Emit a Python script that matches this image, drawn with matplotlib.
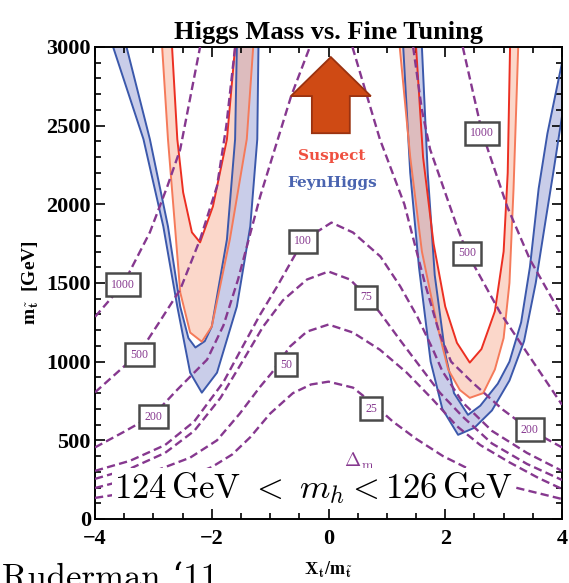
import matplotlib
matplotlib.use("Agg")
import matplotlib.pyplot as plt
import matplotlib.patches as mpatches
from matplotlib.ticker import MultipleLocator

plt.rcParams["font.family"] = ["Liberation Serif", "DejaVu Serif"]
plt.rcParams["mathtext.fontset"] = "cm"

# fine tuning contours, x = X_t/m_stop, y = m_stop [GeV]
ft25_x = [-4.0, -3.3, -2.6, -2.0, -1.65, -1.34, -1.0, -0.61, -0.3, 0.0, 0.42, 0.74, 1.1, 1.5, 1.96, 2.5, 3.2, 4.0]
ft25_y = [134, 175, 240, 330, 410, 520, 670, 800, 855, 873, 835, 740, 620, 510, 400, 300, 200, 127]

ft50_x = [-4.0, -3.5, -2.94, -2.37, -1.91, -1.52, -1.17, -0.97, -0.66, -0.37, 0.0, 0.42, 0.88, 1.34, 1.79, 2.2, 2.6, 3.1, 3.6, 4.0]
ft50_y = [197, 245, 310, 390, 500, 670, 841, 930, 1096, 1191, 1236, 1185, 1076, 930, 758, 590, 470, 360, 260, 191]

ft75_x = [-4.0, -3.4, -2.8, -2.3, -1.85, -1.46, -1.12, -0.78, -0.37, 0.0, 0.37, 0.64, 0.88, 1.22, 1.57, 1.91, 2.3, 2.8, 3.4, 4.0]
ft75_y = [255, 320, 420, 560, 770, 1010, 1223, 1390, 1522, 1573, 1522, 1420, 1312, 1140, 968, 802, 650, 480, 350, 248]

ft100_x = [-4.0, -3.4, -2.8, -2.3, -1.8, -1.45, -1.17, -0.88, -0.61, -0.43, 0.05, 0.42, 0.89, 1.23, 1.52, 1.79, 1.95, 2.3, 2.8, 3.4, 4.0]
ft100_y = [306, 370, 470, 620, 870, 1110, 1300, 1478, 1655, 1770, 1884, 1821, 1668, 1478, 1287, 1076, 940, 740, 560, 420, 306]

ft200_l_x = [-4.0, -3.5, -3.0, -2.59, -2.08, -1.8, -1.55, -1.17, -0.64, -0.32]
ft200_l_y = [455, 555, 660, 822, 1013, 1230, 1522, 2051, 2688, 3000]
ft200_r_x = [0.41, 0.66, 0.88, 1.3, 1.65, 1.9, 2.1, 2.47, 2.99, 3.45, 4.0]
ft200_r_y = [3000, 2688, 2414, 2000, 1500, 1180, 1000, 866, 694, 567, 455]

ft500_l_x = [-4.0, -3.24, -2.9, -2.54, -2.2, -1.91, -1.75, -1.6]
ft500_l_y = [805, 1057, 1250, 1459, 1777, 2115, 2500, 3000]
ft500_r_x = [1.45, 1.6, 1.74, 2.2, 2.37, 2.94, 3.4, 4.0]
ft500_r_y = [3000, 2600, 2350, 1860, 1694, 1312, 1057, 726]

ft1000_l_x = [-4.0, -3.52, -3.06, -2.76, -2.54, -2.2]
ft1000_l_y = [1285, 1490, 1822, 2115, 2350, 3000]
ft1000_r_x = [2.3, 2.63, 3.06, 3.45, 4.0]
ft1000_r_y = [3000, 2458, 1987, 1650, 1290]

# m_h = 124 / 126 GeV boundaries, Suspect
sus_l_124_x = [-2.85, -2.75, -2.63, -2.54, -2.37, -2.17, -2.0, -1.69, -1.4, -1.29]
sus_l_124_y = [3000, 2414, 1860, 1440, 1185, 1127, 1223, 1777, 2414, 3000]
sus_l_126_x = [-2.68, -2.59, -2.49, -2.34, -2.2, -1.98, -1.74, -1.6]
sus_l_126_y = [3000, 2414, 2076, 1822, 1758, 1987, 2414, 3000]
sus_r_124_x = [1.22, 1.4, 1.6, 1.85, 2.05, 2.25, 2.42, 2.65, 2.85, 3.0, 3.1, 3.17, 3.25]
sus_r_124_y = [3000, 2300, 1700, 1250, 950, 820, 770, 800, 950, 1150, 1500, 2100, 3000]
sus_r_126_x = [1.5, 1.62, 1.8, 2.0, 2.2, 2.42, 2.62, 2.85, 3.0, 3.07, 3.11]
sus_r_126_y = [3000, 2300, 1750, 1350, 1120, 994, 1080, 1320, 1700, 2200, 3000]

# same for FeynHiggs
fh_l_124_x = [-3.69, -3.17, -2.83, -2.59, -2.37, -2.17, -1.91, -1.57, -1.34, -1.22, -1.2]
fh_l_124_y = [3000, 2414, 1860, 1350, 930, 803, 930, 1350, 1860, 2414, 3000]
fh_l_126_x = [-3.46, -3.06, -2.75, -2.54, -2.4, -2.28, -2.12, -2.0, -1.74, -1.6, -1.57]
fh_l_126_y = [3000, 2414, 1860, 1350, 1150, 1090, 1130, 1223, 1777, 2414, 3000]
fh_r_124_x = [1.28, 1.4, 1.55, 1.75, 1.95, 2.22, 2.5, 2.8, 3.1, 3.35, 3.55, 3.72, 3.85, 4.0]
fh_r_124_y = [3000, 2200, 1600, 1000, 700, 535, 580, 690, 880, 1130, 1500, 1900, 2200, 2560]
fh_r_126_x = [1.6, 1.7, 1.82, 2.0, 2.15, 2.39, 2.6, 2.9, 3.1, 3.3, 3.45, 3.6, 3.75, 4.0]
fh_r_126_y = [3000, 2200, 1550, 1050, 800, 662, 720, 860, 1000, 1250, 1600, 2100, 2450, 2900]

contour_labels = ["1000", "500", "200", "100", "75", "50", "25", "1000", "500", "200"]
label_x = [-3.52, -3.24, -3.0, -0.44, 0.64, -0.73, 0.73, 2.63, 2.37, 3.45]
label_y = [1490, 1045, 650, 1764, 1408, 981, 701, 2452, 1688, 567]

purple = "#86388f"
red_out = "#f57a5a"
red_in = "#ec2f22"
blue = "#3b58ab"

fig = plt.figure(figsize=(5.69, 5.83), dpi=100)
ax = fig.add_axes([95 / 569, 1 - 519 / 583, 467 / 569, 472 / 583])

# bands
bands = [
    (fh_l_124_x, fh_l_124_y, fh_l_126_x, fh_l_126_y, "#8890d0", blue, blue),
    (fh_r_124_x, fh_r_124_y, fh_r_126_x, fh_r_126_y, "#8890d0", blue, blue),
    (sus_l_124_x, sus_l_124_y, sus_l_126_x, sus_l_126_y, "#f7a88a", red_out, red_in),
    (sus_r_124_x, sus_r_124_y, sus_r_126_x, sus_r_126_y, "#f7a88a", red_out, red_in),
]
for ox, oy, ix, iy, fc, c1, c2 in bands:
    ax.fill(ox + ix[::-1], oy + iy[::-1], color=fc, alpha=0.45, lw=0, zorder=1)
for ox, oy, ix, iy, fc, c1, c2 in bands:
    ax.plot(ox, oy, color=c1, lw=1.4, zorder=2)
    ax.plot(ix, iy, color=c2, lw=1.4, zorder=2)

# dashed fine tuning contours
curves = [(ft25_x, ft25_y), (ft50_x, ft50_y), (ft75_x, ft75_y), (ft100_x, ft100_y),
          (ft200_l_x, ft200_l_y), (ft200_r_x, ft200_r_y),
          (ft500_l_x, ft500_l_y), (ft500_r_x, ft500_r_y),
          (ft1000_l_x, ft1000_l_y), (ft1000_r_x, ft1000_r_y)]
for cx, cy in curves:
    ax.plot(cx, cy, color=purple, lw=1.7, ls=(0, (3.5, 1.8)), zorder=3)

for lab, lx, ly in zip(contour_labels, label_x, label_y):
    ax.text(lx, ly, lab, fontsize=8.5, color=purple, ha="center", va="center", zorder=5,
            bbox=dict(boxstyle="square,pad=0.45", fc="white", ec="#4a4a4a", lw=1.8))

# arrow pointing up
arrow = mpatches.FancyArrow(0.04, 2452, 0, 484, width=0.65, head_width=1.37, head_length=248,
                            length_includes_head=True, fc="#cf4a14", ec="#9a3210", lw=1.3, zorder=4)
ax.add_patch(arrow)

ax.text(0.06, 2306, "Suspect", color="#ef5040", fontsize=11, fontweight="bold",
        family="DejaVu Serif", ha="center", va="center", zorder=4)
ax.text(0.06, 2134, "FeynHiggs", color="#4a64b0", fontsize=11, fontweight="bold",
        family="DejaVu Serif", ha="center", va="center", zorder=4)

ax.text(0.52, 300, r"$\mathbf{\Delta}_{\rm m}$", color=purple, fontsize=14, ha="center",
        va="bottom", zorder=3)

ax.text(0.467, 0.066, r"$124\,\mathrm{GeV}\ <\ m_h < 126\,\mathrm{GeV}$", transform=ax.transAxes,
        fontsize=25, ha="center", va="center", zorder=6,
        bbox=dict(boxstyle="square,pad=0.06", fc="white", ec="none"))

ax.set_xlim(-4, 4)
ax.set_ylim(0, 3000)
ax.xaxis.set_major_locator(MultipleLocator(2))
ax.xaxis.set_minor_locator(MultipleLocator(0.5))
ax.yaxis.set_major_locator(MultipleLocator(500))
ax.yaxis.set_minor_locator(MultipleLocator(100))
ax.tick_params(which="both", direction="in", top=True, right=True, width=1.2)
ax.tick_params(which="major", length=7, labelsize=16, pad=3)
ax.tick_params(axis="x", which="major", pad=7)
ax.tick_params(which="minor", length=4)
for lab in ax.get_xticklabels() + ax.get_yticklabels():
    lab.set_fontweight("bold")
for sp in ax.spines.values():
    sp.set_linewidth(1.4)

ax.set_title("Higgs Mass vs. Fine Tuning", fontsize=19, fontweight="bold", pad=6)
ax.set_ylabel(r"m$_{\tilde{\mathbf{t}}}$  [GeV]", fontsize=14, fontweight="bold", labelpad=4)
ax.set_xlabel(r"$\mathbf{X_t}$/m$_{\tilde{\mathbf{t}}}$", fontsize=13, fontweight="bold", labelpad=8)

fig.text(0.004, -0.008, "Ruderman \u201811", fontsize=25, family=["cmr10", "DejaVu Serif"],
         ha="left", va="baseline")

fig.savefig("out.png", dpi=100)
